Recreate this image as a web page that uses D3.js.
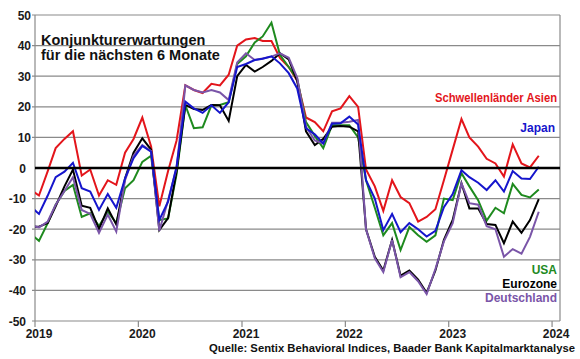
<!DOCTYPE html>
<html>
<head>
<meta charset="utf-8">
<script src="https://cdn.jsdelivr.net/npm/d3@7/dist/d3.min.js"></script>
<style>
  body { margin: 0; background: #fff; }
  svg { display: block; font-family: Arial, "Liberation Sans", sans-serif; font-weight: bold; }
</style>
</head>
<body>
<div class="chart"></div>
<script>
// Monatswerte Dez 2018 - Nov 2023 (Dez 2018 wird am linken Rand abgeschnitten)
var asien = [-7,
  -9, -1, 6.5, 9.5, 12, -2.5, -0.5, -9, -4, -5.5, 5, 9.5,
  16.5, 7, -12.5, -1, 9, 27, 25.5, 24.5, 27.5, 27, 30.5, 40,
  42, 42.5, 41.5, 41.5, 36, 33, 28.5, 16.5, 15, 12, 18.5, 19.5,
  23.5, 20, -0.5, -6, -14, -4, -9.5, -11.5, -17.5, -16, -13.5, -4,
  6, 16, 10, 7, 3, 1.5, -2.8, 7.7, 1.5, 0.2, 4];
var japan = [-12.5,
  -15, -9, -3, -1.2, 1.7, -6.6, -7.7, -13.7, -8.5, -13, -3.4, 3.2,
  7.2, 5.3, -17, -11, 0.5, 21.7, 19.5, 18, 20.5, 18, 21.5, 33,
  34, 35.3, 35.7, 36.5, 34.2, 31, 26, 13, 11, 8, 14.5, 14.6,
  16.8, 14.2, -4, -10, -20.3, -15, -21, -18, -20, -22.4, -20.5, -12.8,
  -8.5, -0.7, -3, -4.8, -7.2, -4, -7.7, -1, -3.4, -3.6, 0.4];
var usa = [-21.4,
  -23.8, -18, -12, -7.5, -5.5, -16, -14.8, -19, -14.3, -18, -6.6, -4,
  2, 4, -17, -16.5, -2, 20.5, 13, 13.3, 20.5, 20.6, 21.5, 34,
  36.5, 41, 43, 47.5, 37, 33, 29, 15, 10.5, 6.5, 14, 14,
  14, 10, -4, -13, -22, -18, -26.8, -19.3, -22, -24.1, -22, -10,
  -10.5, -1.7, -6, -10.5, -17.2, -13, -14.8, -5.2, -8.8, -9.6, -7];
var eurozone = [-19.2,
  -19.2, -18, -12.5, -6, -0.5, -12.3, -13, -20, -13.2, -18.5, -3.4, 5,
  9.7, 6, -20.3, -16.4, -1, 20.6, 19.3, 19, 20.6, 20.5, 15.4, 30,
  33.7, 31.5, 33, 35, 37.5, 35.5, 28.5, 12, 7.5, 9.5, 13.5, 13.7,
  13.5, 12, -20, -29, -33.5, -23.5, -35.2, -33.5, -36.5, -40.8, -33.5, -23.5,
  -17, -5, -13.2, -13.2, -18.3, -18.6, -24.6, -17.5, -21.2, -17, -10.2];
var deutschland = [-18.7,
  -19.4, -17.5, -12, -7.5, -3, -13.7, -15, -21.2, -15.2, -20.8, -4, 4,
  7.5, 5.5, -20.5, -10.5, 0, 27, 25.5, 24.7, 25.5, 24.7, 22.2, 34.5,
  37.5, 35.3, 35.8, 36.4, 37.5, 36, 29.5, 13.5, 9, 8, 14.8, 14.8,
  15.1, 15.7, -20, -29.5, -34, -23.5, -35.7, -34, -37, -41.2, -33, -24,
  -18, -5, -11.5, -12, -19, -20, -29, -26.5, -28, -22.5, -14.3];

var yTicks = [-50, -40, -30, -20, -10, 0, 10, 20, 30, 40, 50];
var xYears = [2019, 2020, 2021, 2022, 2023, 2024];

// Datum je Monat: Monatsmitte
var months = d3.timeMonth.range(new Date(2018, 11, 1), new Date(2023, 11, 1))
  .map(function(m) { return d3.timeDay.offset(m, 14); });

var series = [
  { name: "Schwellenländer Asien", values: asien, color: "#e3151b", label: [557, 102] },
  { name: "USA", values: usa, color: "#1e8a1e", label: [557, 274] },
  { name: "Eurozone", values: eurozone, color: "#000000", label: [557, 288] },
  { name: "Deutschland", values: deutschland, color: "#7a55a8", label: [557, 302] },
  { name: "Japan", values: japan, color: "#1515cc", label: [555, 132] }
];

var width = 580;
var height = 359;
var plotLeft = 35, plotRight = 560, plotTop = 15, plotBottom = 321;

var svg = d3.select(".chart").append("svg")
  .attr("width", width)
  .attr("height", height);

var x = d3.scaleTime()
  .domain([new Date(2019, 0, 1), new Date(2024, 0, 29)])
  .range([plotLeft, plotRight]);
var y = d3.scaleLinear()
  .domain([-50, 50])
  .range([plotBottom, plotTop]);

// Gitter
svg.selectAll("line.grid")
  .data(yTicks.filter(function(d) { return d !== 0; }))
  .enter()
  .append("line")
  .attr("class", "grid")
  .attr("x1", plotLeft - 3)
  .attr("x2", plotRight)
  .attr("y1", function(d) { return y(d); })
  .attr("y2", function(d) { return y(d); })
  .attr("stroke", "#8a8a8a")
  .attr("stroke-width", 1.2);

// Rahmen links/rechts
svg.append("line")
  .attr("x1", plotLeft).attr("x2", plotLeft).attr("y1", plotTop).attr("y2", plotBottom)
  .attr("stroke", "#8a8a8a").attr("stroke-width", 1.2);
svg.append("line")
  .attr("x1", plotRight).attr("x2", plotRight).attr("y1", plotTop).attr("y2", plotBottom)
  .attr("stroke", "#8a8a8a").attr("stroke-width", 1.2);

// x-Achse Striche
svg.selectAll("line.xtick")
  .data(xYears)
  .enter()
  .append("line")
  .attr("class", "xtick")
  .attr("x1", function(d) { return x(new Date(d, 0, 1)); })
  .attr("x2", function(d) { return x(new Date(d, 0, 1)); })
  .attr("y1", plotBottom)
  .attr("y2", plotBottom + 6)
  .attr("stroke", "#8a8a8a")
  .attr("stroke-width", 1.2);

svg.selectAll("text.xlab")
  .data(xYears)
  .enter()
  .append("text")
  .attr("class", "xlab")
  .text(function(d) { return d; })
  .attr("x", function(d) { return x(new Date(d, 0, 1)) + 4; })
  .attr("y", 338)
  .attr("text-anchor", "middle")
  .attr("font-size", 12)
  .attr("fill", "#1a1a1a");

svg.selectAll("text.ylab")
  .data(yTicks)
  .enter()
  .append("text")
  .attr("class", "ylab")
  .text(function(d) { return d; })
  .attr("x", function(d) { return d > 0 ? 31 : 26; })
  .attr("y", function(d) { return y(d) + 4.5; })
  .attr("text-anchor", "end")
  .attr("font-size", 12)
  .attr("fill", "#1a1a1a");

// Linien
svg.append("clipPath").attr("id", "plot")
  .append("rect")
  .attr("x", plotLeft).attr("y", plotTop)
  .attr("width", plotRight - plotLeft).attr("height", plotBottom - plotTop);

var line = d3.line()
  .x(function(d, i) { return x(months[i]); })
  .y(function(d) { return y(d); });

svg.append("g")
  .attr("clip-path", "url(#plot)")
  .selectAll("path")
  .data(series)
  .enter()
  .append("path")
  .attr("d", function(s) { return line(s.values); })
  .attr("fill", "none")
  .attr("stroke", function(s) { return s.color; })
  .attr("stroke-width", 2)
  .attr("stroke-linejoin", "miter");

// Nulllinie
svg.append("line")
  .attr("x1", plotLeft).attr("x2", plotRight)
  .attr("y1", y(0)).attr("y2", y(0))
  .attr("stroke", "#000")
  .attr("stroke-width", 2.6);

// Beschriftungen
svg.selectAll("text.leg")
  .data(series)
  .enter()
  .append("text")
  .attr("class", "leg")
  .text(function(s) { return s.name; })
  .attr("x", function(s) { return s.label[0]; })
  .attr("y", function(s) { return s.label[1]; })
  .attr("text-anchor", "end")
  .attr("font-size", 12)
  .attr("fill", function(s) { return s.color; })
  .each(function(s) {
    if (s.name === "Schwellenländer Asien") {
      d3.select(this).attr("textLength", 122).attr("lengthAdjust", "spacingAndGlyphs");
    }
  });

svg.append("text")
  .text("Konjunkturerwartungen")
  .attr("x", 41).attr("y", 45)
  .attr("font-size", 14.5)
  .attr("fill", "#111");
svg.append("text")
  .text("für die nächsten 6 Monate")
  .attr("x", 41).attr("y", 60)
  .attr("font-size", 14.5)
  .attr("fill", "#111");

svg.append("text")
  .text("Quelle: Sentix Behavioral Indices, Baader Bank Kapitalmarktanalyse")
  .attr("x", 209).attr("y", 352)
  .attr("font-size", 11.5)
  .attr("textLength", 366)
  .attr("lengthAdjust", "spacingAndGlyphs")
  .attr("fill", "#111");
</script>
</body>
</html>
